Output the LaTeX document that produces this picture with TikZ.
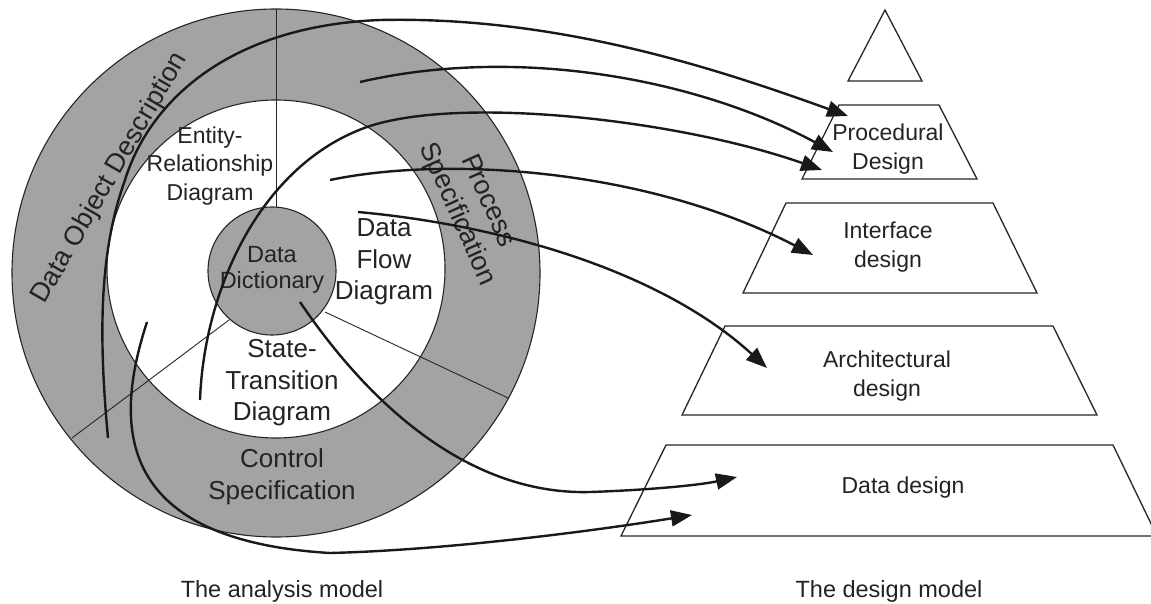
\documentclass[tikz,border=0pt]{standalone}
\usepackage{fontspec}
\setmainfont{Liberation Sans}
\usetikzlibrary{arrows.meta}
\definecolor{ringgray}{RGB}{163,163,163}
\definecolor{inkgray}{RGB}{35,35,35}
\begin{document}
\begin{tikzpicture}[x=1pt,y=-1pt,
  lbl/.style={align=center, inner sep=0pt, text=inkgray},
  fa/.style={font=\fontsize{23}{28.5}\selectfont},
  fb/.style={font=\fontsize{26}{31.5}\selectfont},
  fc/.style={font=\fontsize{27}{33.5}\selectfont},
  fd/.style={font=\fontsize{23.5}{28.5}\selectfont},
  ringline/.style={line width=1.1pt, draw=black!85},
  sector/.style={line width=0.9pt, draw=black!85},
  layer/.style={line width=1.3pt, draw=black!85, fill=white},
  conn/.style={line width=2.4pt, draw=black!90, -{Triangle[length=21pt,width=16pt]}}]
\useasboundingbox (0,0) rectangle (1151,604);
\clip (0,0) rectangle (1151,604);
\fill[white] (0,0) rectangle (1151,604);

% ---------- analysis model ----------
\draw[ringline, fill=ringgray] (276,273) circle (264);
\draw[ringline, fill=white] (276,269) circle (169);
\coordinate (vtop) at (276,9);
\coordinate (vbot) at (276,210);
\coordinate (llo) at (72,438);
\coordinate (lli) at (229,320);
\coordinate (lri) at (325,312);
\coordinate (lro) at (508,398);
\draw[sector] (vtop) -- (vbot);
\draw[sector] (llo) -- (lli);
\draw[sector] (lri) -- (lro);
\draw[ringline, fill=ringgray] (272,271) circle (64);

\node[lbl, fc, rotate=60] (dod) at (110,178) {Data Object Description};
\node[lbl, fc, rotate=-66] (ps) at (472,208) {Process\\Specification};
\node[lbl, fa] (erd) at (210,166) {Entity-\\Relationship\\Diagram};
\node[lbl, font=\fontsize{23.5}{26}\selectfont] (dd) at (272,270) {Data\\Dictionary};
\node[lbl, fb] (dfd) at (384,262) {Data\\Flow\\Diagram};
\node[lbl, fb] (std) at (282,383) {State-\\Transition\\Diagram};
\node[lbl, fb] (cs) at (282,477) {Control\\Specification};
\node[lbl, fd] (am) at (282,591) {The analysis model};

% ---------- design model ----------
\draw[layer] (848,81) -- (885,10) -- (922,81) -- cycle;
\draw[layer] (839,105) -- (939,105) -- (977,179) -- (802,179) -- cycle;
\draw[layer] (786,203) -- (993,203) -- (1037,293) -- (743,293) -- cycle;
\draw[layer] (725,326) -- (1053,326) -- (1097,415) -- (682,415) -- cycle;
\draw[layer] (666,445) -- (1113,445) -- (1157,536) -- (621,536) -- cycle;

\node[lbl, fa] (pd) at (888,149) {Procedural\\Design};
\node[lbl, fa] (id) at (888,247) {Interface\\design};
\node[lbl, fa] (ad) at (887,376) {Architectural\\design};
\node[lbl, fa] (dtd) at (903,488) {Data design};
\node[lbl, fd] (dm) at (889,591) {The design model};

% ---------- connectors ----------
\coordinate (s1) at (108,438);  \coordinate (e1) at (848,116);
\coordinate (s2) at (360,82);   \coordinate (e2) at (833,152);
\coordinate (s3) at (200,400);  \coordinate (e3) at (822,170);
\coordinate (s4) at (330,180);  \coordinate (e4) at (813,255);
\coordinate (s5) at (358,212);  \coordinate (e5) at (767,368);
\coordinate (s6) at (300,302);  \coordinate (e6) at (737,477);
\coordinate (s7) at (147,322);  \coordinate (e7) at (692,515);

\draw[conn] (s1) .. controls (98,330) and (100,250) .. (125,180)
                 .. controls (150,100) and (230,26) .. (380,20)
                 .. controls (560,16) and (720,70) .. (e1);
\draw[conn] (s2) .. controls (520,45) and (700,80) .. (e2);
\draw[conn] (s3) .. controls (204,290) and (260,165) .. (367,127)
                 .. controls (460,95) and (680,120) .. (e3);
\draw[conn] (s4) .. controls (450,155) and (650,170) .. (e4);
\draw[conn] (s5) .. controls (500,225) and (660,270) .. (e5);
\draw[conn] (s6) .. controls (380,420) and (480,495) .. (590,492)
                 .. controls (650,490) and (700,485) .. (e6);
\draw[conn] (s7) .. controls (115,420) and (110,540) .. (330,553)
                 .. controls (450,550) and (600,530) .. (e7);
\end{tikzpicture}
\end{document}
